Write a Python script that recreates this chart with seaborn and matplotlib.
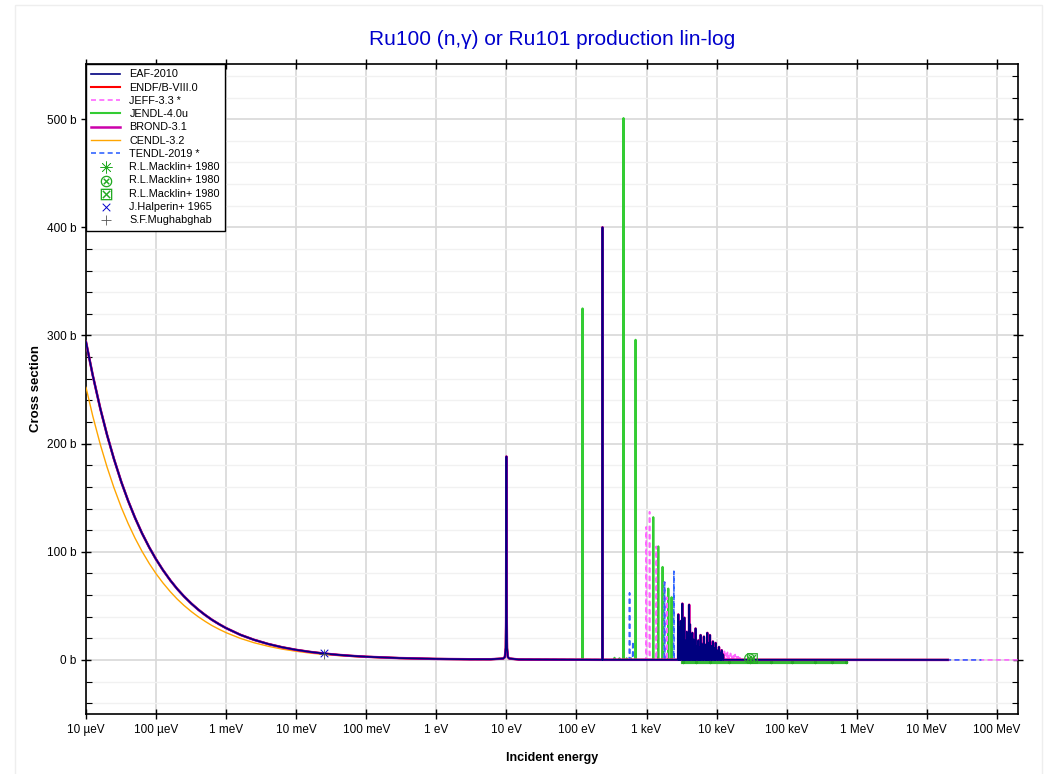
import numpy as np
import pandas as pd
import seaborn as sns
import matplotlib.pyplot as plt
import matplotlib.patches as patches
from matplotlib.ticker import FixedLocator, NullLocator, MultipleLocator, FuncFormatter

# Ru100 (n,g) : valeurs

# fond en 1/v (énergies en eV, sections en barns)
E_bg = [1e-5, 1.25e-5, 1.6e-5, 2e-5, 2.5e-5, 3.2e-5, 4e-5, 5e-5, 6.3e-5, 8e-5,
        1e-4, 1.25e-4, 1.6e-4, 2e-4, 2.5e-4, 3.2e-4, 4e-4, 5e-4, 6.3e-4, 8e-4,
        1e-3, 1.6e-3, 2.5e-3, 4e-3, 6.3e-3, 1e-2, 1.6e-2, 2.53e-2, 4e-2, 6.3e-2,
        0.1, 0.3, 1.0, 3.0, 6.0, 9.0, 9.5, 9.8, 9.9, 9.95, 10.0, 10.05, 10.1, 10.2,
        10.5, 11.0, 15.0, 30.0, 100.0, 1e3, 1e4, 1e5, 1e6, 2e7]
xs_bg = [294, 263, 232.4, 207.9, 186, 164.3, 147, 131.5, 117.1, 104,
         93, 83.2, 73.5, 65.7, 58.8, 52, 46.5, 41.6, 37, 32.9,
         29.4, 23.2, 18.6, 14.7, 11.7, 9.3, 7.35, 5.85, 4.65, 3.7,
         2.94, 1.7, 0.93, 0.6, 0.6, 1.3, 2.6, 11, 37, 94, 188, 94, 37, 11,
         2.6, 1.3, 0.4, 0.3, 0.2, 0.15, 0.1, 0.1, 0.05, 0.01]
# CENDL-3.2 : fond plus bas
xs_cendl = [252, 225.4, 199.2, 178.2, 159.4, 140.8, 126, 112.7, 100.4, 89.1,
            79.7, 71.3, 63, 56.3, 50.4, 44.6, 39.9, 35.7, 31.7, 28.2,
            25.2, 19.9, 15.9, 12.6, 10.0, 8.0, 6.3, 5.0, 4.0, 3.2,
            2.5, 1.46, 0.8, 0.5, 0.45, 1.2, 2.5, 11, 37, 94, 188, 94, 37, 11,
            2.5, 1.2, 0.4, 0.3, 0.2, 0.15, 0.1, 0.1, 0.05, 0.01]

# résonances résolues (énergie eV, pic en b)
forest_E = [2840, 2950, 3060, 3240, 3350, 3470, 3600, 3750, 3900, 4050, 4160, 4320,
            4500, 4700, 4850, 5010, 5250, 5480, 5700, 5900, 6150, 6400, 6590, 6900,
            7150, 7360, 7700, 8020, 8400, 8850, 9250, 9680, 10200, 10800, 11300, 11800, 12400]
forest_xs = [42, 30, 36, 52, 22, 39, 18, 26, 20, 51, 33, 15,
             25, 19, 14, 29, 13, 18, 12, 23, 15, 11, 21.5, 14,
             12, 25, 16, 23, 13, 17, 11, 15.7, 9, 12, 7, 9, 5]

eaf_E = [235] + forest_E
eaf_xs = [400] + forest_xs

jeff_E = [990, 1104, 1377, 1807, 1950] + forest_E + [12900, 13600, 14300, 15000, 15800,
                                                     16600, 17500, 18400, 19400, 20400, 21500]
jeff_xs = [123, 137, 105, 72, 58] + forest_xs + [8, 6, 7, 5, 6, 5, 4, 5, 3, 3, 2]

jendl_E = [122, 349, 410, 520, 600, 469, 697, 1247, 1470, 1693, 2042, 2276]
jendl_xs = [325, 2, 1.5, 1.5, 1.5, 501, 296, 132, 105, 86, 66, 58]

tendl_E = [572, 637, 1807, 2454] + forest_E
tendl_xs = [62, 17, 72, 82] + forest_xs

# données expérimentales
macklin_E = [3300, 5000, 8000, 15000, 30000, 60000, 120000, 250000, 450000, 700000]
macklin_xs = [-1.8, -1.8, -1.8, -1.8, -1.8, -1.8, -1.8, -1.8, -1.8, -1.8]
macklin2_E = [29000]
macklin2_xs = [1.5]
macklin3_E = [31500]
macklin3_xs = [1.5]
halperin_E = [0.0253]
halperin_xs = [6.2]
mugh_E = [0.0253]
mugh_xs = [5.9]

x_ticks = [1e-5, 1e-4, 1e-3, 1e-2, 1e-1, 1, 10, 100, 1e3, 1e4, 1e5, 1e6, 1e7, 1e8]
x_tick_labels = ["10 µeV", "100 µeV", "1 meV", "10 meV", "100 meV", "1 eV", "10 eV",
                 "100 eV", "1 keV", "10 keV", "100 keV", "1 MeV", "10 MeV", "100 MeV"]


def construire(E_fond, xs_fond, E_res, xs_res, e_max, w=0.008):
    """Ajoute des pics étroits (résonances) au fond et trie par énergie"""
    E = list(E_fond)
    s = list(xs_fond)
    for e0, p in zip(E_res, xs_res):
        E += [e0 * (1 - w), e0, e0 * (1 + w)]
        s += [0.1, p, 0.1]
    df = pd.DataFrame({"E": E, "xs": s}).sort_values("E")
    if e_max > df["E"].max():
        df = pd.concat([df, pd.DataFrame({"E": [e_max], "xs": [0.0]})])
    return df


plt.rcParams["font.family"] = ["Liberation Sans", "DejaVu Sans"]
plt.rcParams["axes.unicode_minus"] = False

fig = plt.figure(figsize=(10.63, 7.74), dpi=100)
ax = fig.add_axes([86 / 1063, 60 / 774, 932 / 1063, 650 / 774])

# cadre très clair autour de la figure
fig.patches.append(patches.Rectangle((15 / 1063, -0.01), 1027 / 1063, 1.0 - 5 / 774 + 0.01,
                                     transform=fig.transFigure, fill=False,
                                     edgecolor="#eeeeee", linewidth=1))

series = [
    ("EAF-2010", construire(E_bg, xs_bg, eaf_E, eaf_xs, 2e7), "#00007f", "-", 1.2, 9),
    ("ENDF/B-VIII.0", construire(E_bg, xs_bg, eaf_E, eaf_xs, 2e7), "#ff0000", "-", 1.5, 7),
    ("JEFF-3.3 *", construire(E_bg, xs_bg, jeff_E, jeff_xs, 2e8), "#ff66ff", (0, (3, 2)), 1.2, 5),
    ("JENDL-4.0u", construire(E_bg, xs_bg, jendl_E, jendl_xs, 2e7), "#33cc33", "-", 1.5, 3),
    ("BROND-3.1", construire(E_bg, xs_bg, eaf_E, eaf_xs, 2e7), "#cc00aa", "-", 1.8, 8),
    ("CENDL-3.2", construire(E_bg, xs_cendl, [], [], 2e7), "#ffa500", "-", 1.0, 4),
    ("TENDL-2019 *", construire(E_bg, xs_bg, tendl_E, tendl_xs, 6e7), "#3366ff", (0, (3, 2)), 1.2, 6),
]

for nom, df, couleur, style, lw, z in series:
    sns.lineplot(data=df, x="E", y="xs", ax=ax, color=couleur, linestyle=style,
                 linewidth=lw, sort=False, estimator=None, label=nom, zorder=z)

# bande verte (Macklin) juste sous zéro
sns.lineplot(x=macklin_E, y=macklin_xs, ax=ax, color="#33bb33", linewidth=3,
             sort=False, estimator=None, zorder=2)
ax.lines[-1].set_label("_nolegend_")

sns.scatterplot(x=macklin_E, y=macklin_xs, ax=ax, marker=(8, 2, 0), s=4, color="#22aa22",
                edgecolor="#22aa22", linewidth=0.5, label="R.L.Macklin+ 1980", zorder=2.5)
sns.scatterplot(x=macklin2_E, y=macklin2_xs, ax=ax, marker=r"$\otimes$", s=60, color="#22aa22",
                linewidth=0, label="R.L.Macklin+ 1980", zorder=10)
sns.scatterplot(x=macklin3_E, y=macklin3_xs, ax=ax, marker=r"$\boxtimes$", s=60, color="#22aa22",
                linewidth=0, label="R.L.Macklin+ 1980", zorder=10)
sns.scatterplot(x=halperin_E, y=halperin_xs, ax=ax, marker="x", s=30, color="#0000cc",
                linewidth=0.7, label="J.Halperin+ 1965", zorder=10)
sns.scatterplot(x=mugh_E, y=mugh_xs, ax=ax, marker="+", s=50, color="#555555",
                linewidth=0.6, label="S.F.Mughabghab", zorder=10)

# axes
ax.set_xscale("log")
ax.set_xlim(1e-5, 2e8)
ax.set_ylim(-50, 551)
ax.xaxis.set_major_locator(FixedLocator(x_ticks))
ax.xaxis.set_minor_locator(NullLocator())
ax.set_xticklabels(x_tick_labels)
ax.yaxis.set_major_locator(MultipleLocator(100))
ax.yaxis.set_minor_locator(MultipleLocator(20))
ax.yaxis.set_major_formatter(FuncFormatter(lambda v, p: f"{v:.0f} b"))

ax.grid(which="major", color="#d8d8d8", linewidth=1.2, zorder=0)
ax.grid(which="minor", axis="y", color="#f1f1f1", linewidth=1.0, zorder=0)
ax.set_axisbelow(True)

ax.tick_params(which="major", direction="inout", length=7, width=1, labelsize=8.5,
               top=True, right=True, colors="black")
ax.tick_params(which="minor", direction="in", length=4, width=0.8, right=True)
for sp in ax.spines.values():
    sp.set_linewidth(1.2)
    sp.set_color("black")

ax.set_xlabel("Incident energy", fontsize=9, fontweight="bold", labelpad=12)
ax.set_ylabel("Cross section", fontsize=9.5, fontweight="bold", labelpad=3)
ax.set_title("Ru100 (n,γ) or Ru101 production lin-log", color="#0000cc", fontsize=15, pad=14)

leg = ax.legend(loc="upper left", borderaxespad=0, fontsize=7.8, frameon=True, fancybox=False,
                framealpha=1, edgecolor="black", handlelength=2.6, handletextpad=0.9,
                labelspacing=0.3, borderpad=0.5)
leg.get_frame().set_linewidth(1)
leg.set_zorder(20)
# taille des marqueurs dans la légende
for h, taille in zip(leg.legend_handles[7:], [70, 70, 70, 30, 50]):
    h.set_sizes([taille])

fig.savefig("out.png", dpi=100)
